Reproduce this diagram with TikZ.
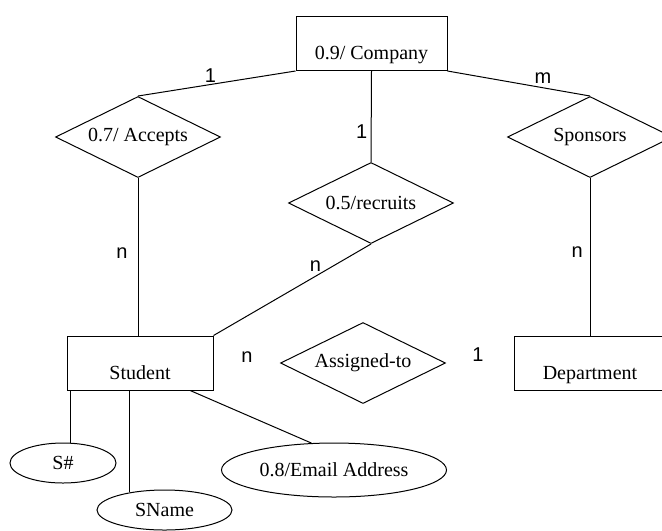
\documentclass[tikz,border=0pt]{standalone}
\usepackage{fontspec}
\setmainfont{Liberation Serif}
\newfontfamily\labelfont{Liberation Sans}
\usetikzlibrary{shapes.geometric, positioning, calc}

\begin{document}
\begin{tikzpicture}[
        x=0.6pt, y=-0.6pt, semithick,
        font=\fontsize{12pt}{14pt}\selectfont,
        entity/.style={rectangle, draw, minimum height=32.4pt, inner sep=0pt, text height=26pt, text depth=6.4pt},
        relation/.style={diamond, draw, aspect=2.05, minimum width=99pt, minimum height=48.6pt, inner sep=0pt},
        attr/.style={ellipse, draw, minimum height=24pt, inner sep=0pt},
        card/.style={font=\labelfont\fontsize{12pt}{14pt}\selectfont, inner sep=1pt}
    ]
        \useasboundingbox (0,0) rectangle (662,530);
        \clip (0,0) rectangle (662,530);

        % Entities and relationships
        \node[entity, minimum width=90.6pt] (company) at (371.5,43.5) {0.9/ Company};
        \node[relation] (accepts) at (138,137) {0.7/ Accepts};
        \node[relation] (recruits) at (371,203) {0.5/recruits};
        \node[relation] (sponsors) at (590,137) {Sponsors};
        \node[entity, minimum width=87.6pt] (student) at (140,363) {Student};
        \node[relation] (assigned) at (363,363) {Assigned-to};
        \node[entity, minimum width=91.2pt] (department) at (590,363) {Department};

        % Attributes of Student
        \node[attr, minimum width=63.6pt] (sid) at (63,463) {S\#};
        \node[attr, minimum width=81pt] (sname) at (164.5,510) {SName};
        \node[attr, minimum width=135pt, minimum height=32.4pt] (email) at (334,470) {0.8/Email Address};

        % Links with cardinalities
        \draw (company.south west) -- node[card, pos=0.54, above] {1} (accepts.north);
        \draw (company.south) -- node[card, pos=0.67, left=1pt] {1} (recruits.north);
        \draw (company.south east) -- node[card, pos=0.67, above=1pt] {m} (sponsors.north);
        \draw (accepts.south) -- node[card, pos=0.48, left=5pt] {n} (accepts.south |- student.north);
        \draw (recruits.south) -- node[card, pos=0.24, left=6pt] {n} (student.north east);
        \draw (sponsors.south) -- node[card, pos=0.47, left=3pt] {n} (department.north);

        \draw (student.south -| sid.70) -- (sid.70);
        \draw (student.south -| sname.153) -- (sname.153);
        \draw ([xshift=-14pt]student.south east) -- (email.130);

        % Assigned-to has no links
        \node[card] (assignedn) at (247,357) {n};
        \node[card] (assignedone) at (478,355) {1};

    \end{tikzpicture}
\end{document}
